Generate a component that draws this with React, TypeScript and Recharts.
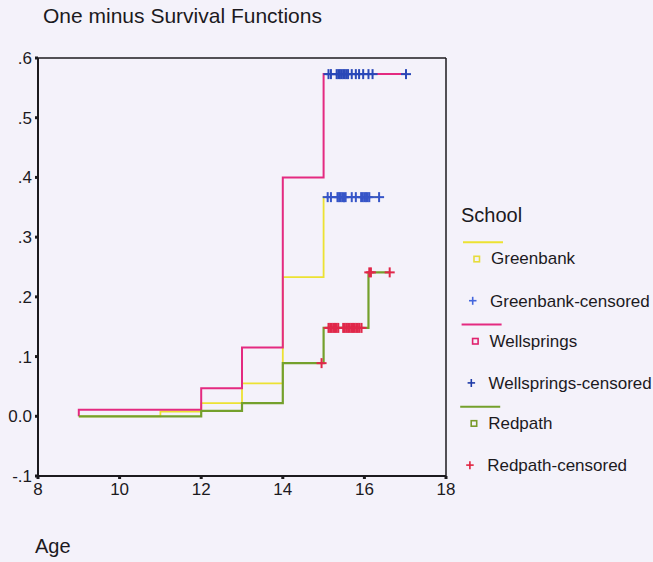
import React from 'react'
import { ComposedChart, Line, Scatter, XAxis, YAxis, ReferenceLine } from 'recharts'

// step points of one minus survival, by school (age, probability)
const greenbankSteps = [
  { age: 9, p: 0 },
  { age: 11, p: 0.008 },
  { age: 12, p: 0.022 },
  { age: 13, p: 0.055 },
  { age: 14, p: 0.233 },
  { age: 15, p: 0.367 },
  { age: 16.36, p: 0.367 },
]

const wellspringsSteps = [
  { age: 9, p: 0 },
  { age: 9, p: 0.011 },
  { age: 12, p: 0.047 },
  { age: 13, p: 0.115 },
  { age: 14, p: 0.4 },
  { age: 15, p: 0.573 },
  { age: 17.02, p: 0.573 },
]

const redpathSteps = [
  { age: 9, p: 0 },
  { age: 12, p: 0.009 },
  { age: 13, p: 0.022 },
  { age: 14, p: 0.089 },
  { age: 15, p: 0.148 },
  { age: 16.1, p: 0.241 },
  { age: 16.62, p: 0.241 },
]

// censored cases
const greenbankCensoredAges = [15.1, 15.18, 15.34, 15.38, 15.42, 15.46, 15.5, 15.54, 15.69, 15.79, 15.92, 15.96, 16.0, 16.04, 16.08, 16.12, 16.36]
const greenbankCensoredP = 0.367

const wellspringsCensoredAges = [15.12, 15.18, 15.32, 15.36, 15.4, 15.44, 15.48, 15.52, 15.56, 15.6, 15.69, 15.79, 15.87, 15.97, 16.1, 16.2, 17.02]
const wellspringsCensoredP = 0.573

const redpathCensored = [
  { age: 14.95, p: 0.089 },
  { age: 15.12, p: 0.148 }, { age: 15.16, p: 0.148 }, { age: 15.2, p: 0.148 }, { age: 15.24, p: 0.148 },
  { age: 15.28, p: 0.148 }, { age: 15.32, p: 0.148 }, { age: 15.36, p: 0.148 },
  { age: 15.48, p: 0.148 }, { age: 15.52, p: 0.148 }, { age: 15.56, p: 0.148 }, { age: 15.6, p: 0.148 },
  { age: 15.64, p: 0.148 }, { age: 15.68, p: 0.148 }, { age: 15.72, p: 0.148 }, { age: 15.76, p: 0.148 },
  { age: 15.8, p: 0.148 }, { age: 15.84, p: 0.148 }, { age: 15.88, p: 0.148 }, { age: 15.93, p: 0.148 },
  { age: 16.12, p: 0.241 }, { age: 16.16, p: 0.241 }, { age: 16.62, p: 0.241 },
]

const xTicks = [8, 10, 12, 14, 16, 18]
const yTicks = [-0.1, 0, 0.1, 0.2, 0.3, 0.4, 0.5, 0.6]
const yTickLabels = ['-.1', '0.0', '.1', '.2', '.3', '.4', '.5', '.6']

const legendGroups = [
  { name: 'Greenbank', line: '#ece232', box: '#e6dc3c', plus: '#4466dd' },
  { name: 'Wellsprings', line: '#e42a80', box: '#e0226e', plus: '#1f3ca8' },
  { name: 'Redpath', line: '#74a02c', box: '#7a9a2a', plus: '#e0233f' },
]

const FONT = '"Liberation Sans", Arial, Helvetica, sans-serif'
const INK = '#1c1a1e'

const greenbankCensored = greenbankCensoredAges.map(age => ({ age, p: greenbankCensoredP }))
const wellspringsCensored = wellspringsCensoredAges.map(age => ({ age, p: wellspringsCensoredP }))

const plusShape = (color: string) => (props: any) => {
  const { cx, cy } = props
  if (cx == null || cy == null) return <g />
  return (
    <g>
      <line x1={cx - 5} y1={cy} x2={cx + 5} y2={cy} stroke={color} strokeWidth={2} />
      <line x1={cx} y1={cy - 5} x2={cx} y2={cy + 5} stroke={color} strokeWidth={2} />
    </g>
  )
}

function LegendOverlay() {
  return (
    <svg width={653} height={562} style={{ position: 'absolute', left: 0, top: 0, pointerEvents: 'none' }}>
      <text x={43} y={22.5} fontFamily={FONT} fontSize={21} fill={INK}>One minus Survival Functions</text>
      <text x={35} y={553} fontFamily={FONT} fontSize={20} fill={INK}>Age</text>
      <text x={461} y={222} fontFamily={FONT} fontSize={20} fill={INK}>School</text>
      {legendGroups.map((g, i) => {
        const y0 = 242.3 + i * 82.2
        const dx = -1.4 * i
        return (
          <g key={g.name}>
            <line x1={463 + dx} y1={y0} x2={503 + dx} y2={y0} stroke={g.line} strokeWidth={2} />
            <rect x={474 + dx} y={y0 + 14} width={5.5} height={5.5} fill="none" stroke={g.box} strokeWidth={1.6} />
            <text x={491 + dx} y={y0 + 22} fontFamily={FONT} fontSize={17} fill={INK}>{g.name}</text>
            <line x1={469 + dx} y1={y0 + 58.4} x2={476.5 + dx} y2={y0 + 58.4} stroke={g.plus} strokeWidth={1.6} />
            <line x1={472.7 + dx} y1={y0 + 54.5} x2={472.7 + dx} y2={y0 + 62.5} stroke={g.plus} strokeWidth={1.6} />
            <text x={490 + dx} y={y0 + 64.4} fontFamily={FONT} fontSize={17} fill={INK}>{g.name}-censored</text>
          </g>
        )
      })}
    </svg>
  )
}

export default function App() {
  return (
    <div style={{ position: 'absolute', left: 0, top: 0, width: 653, height: 562, background: '#f4f2fa', overflow: 'hidden' }}>
      <ComposedChart width={653} height={562} margin={{ top: 58, right: 207, bottom: 56, left: 0 }}>
        <XAxis
          type="number"
          dataKey="age"
          domain={[8, 18]}
          ticks={xTicks}
          height={30}
          axisLine={{ stroke: INK, strokeWidth: 2 }}
          tickLine={{ stroke: INK, strokeWidth: 3 }}
          tickSize={3}
          tickMargin={4}
          tick={{ fill: INK, fontSize: 17, fontFamily: FONT }}
          allowDataOverflow
        />
        <YAxis
          type="number"
          dataKey="p"
          domain={[-0.1, 0.6]}
          ticks={yTicks}
          width={38}
          axisLine={{ stroke: INK, strokeWidth: 2 }}
          tickLine={{ stroke: INK, strokeWidth: 3 }}
          tickSize={3}
          tickMargin={3}
          tick={{ fill: INK, fontSize: 17, fontFamily: FONT }}
          tickFormatter={(v: number, i: number) => yTickLabels[i]}
          allowDataOverflow
        />
        <ReferenceLine y={0.6} stroke={INK} strokeWidth={1.5} />
        <ReferenceLine x={18} stroke={INK} strokeWidth={1.5} />

        <Line data={greenbankSteps} dataKey="p" type="stepAfter" stroke="#ece232" strokeWidth={1.8} dot={false} isAnimationActive={false} />
        <Line data={wellspringsSteps} dataKey="p" type="stepAfter" stroke="#e42a80" strokeWidth={2} dot={false} isAnimationActive={false} />
        <Line data={redpathSteps} dataKey="p" type="stepAfter" stroke="#74a02c" strokeWidth={2.2} dot={false} isAnimationActive={false} />

        <Scatter data={greenbankCensored} dataKey="p" shape={plusShape('#3655c8')} isAnimationActive={false} />
        <Scatter data={wellspringsCensored} dataKey="p" shape={plusShape('#2a48b8')} isAnimationActive={false} />
        <Scatter data={redpathCensored} dataKey="p" shape={plusShape('#e0284a')} isAnimationActive={false} />
      </ComposedChart>
      <LegendOverlay />
    </div>
  )
}
